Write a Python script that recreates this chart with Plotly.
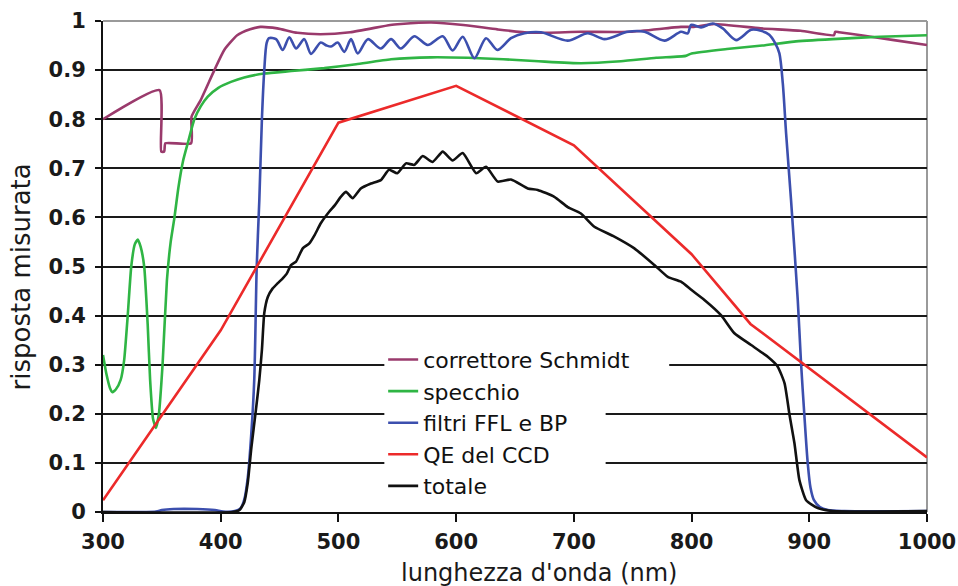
import plotly.graph_objects as go

# ---------------- data ----------------
schmidt_x = [300, 348, 349.5, 352, 353, 374.8, 375.2, 383, 394.6, 403, 414, 425, 433.6, 448, 465, 484.6,
             510, 544, 553, 578.7, 606, 635, 663, 706, 748, 791, 802, 819, 858.6, 892.6, 921, 922,
             925.3, 944, 972, 1000]
schmidt_y = [0.8, 0.859, 0.734, 0.734, 0.751, 0.751, 0.805, 0.839, 0.9, 0.941, 0.971, 0.983, 0.988, 0.985,
             0.976, 0.973, 0.977, 0.992, 0.994, 0.997, 0.992, 0.983, 0.976, 0.978, 0.978, 0.988, 0.988,
             0.994, 0.985, 0.98, 0.971, 0.978, 0.977, 0.971, 0.961, 0.951]

specchio_x = [300, 303, 306, 308, 311, 315, 318, 321, 324, 327, 329.5, 332, 335, 338, 340, 342.5, 345,
              347.5, 350.6, 354.3, 357.5, 360.6, 364, 368, 372, 377.6, 383, 389, 398, 408.7, 420, 437,
              460, 488, 515, 544.7, 578.7, 610, 640, 670, 706, 740, 770, 795, 800, 830, 860, 887, 920,
              960, 1000]
specchio_y = [0.32, 0.28, 0.252, 0.244, 0.25, 0.269, 0.31, 0.4, 0.5, 0.545, 0.555, 0.54, 0.5, 0.38, 0.27,
              0.19, 0.171, 0.2, 0.3, 0.472, 0.55, 0.598, 0.66, 0.715, 0.751, 0.8, 0.826, 0.846, 0.864,
              0.876, 0.885, 0.893, 0.898, 0.904, 0.912, 0.922, 0.926, 0.925, 0.922, 0.918, 0.914, 0.918,
              0.925, 0.929, 0.934, 0.943, 0.95, 0.958, 0.963, 0.968, 0.971]

filtri_x = [300, 345, 350, 360, 380, 395, 402, 412, 417, 420, 423, 426, 428.5, 430.6, 432.8, 435, 437, 439,
            441, 447, 452.7, 458.3, 464, 471, 476.7, 485, 490, 493.7, 499.4, 505, 510.7, 516.4, 525, 536,
            544.7, 553, 564.5, 575.8, 588.6, 597, 605.6, 615.5, 625.4, 635, 646.6, 658, 672, 694.8, 711.8,
            726, 745.8, 760, 777, 791, 796.8, 799.6, 808, 818, 826.5, 837.8, 850.6, 859, 866, 871, 874.6,
            877.5, 880.3, 884.5, 890.2, 893, 895.8, 898.7, 901, 904, 909, 915.7, 930, 1000]
filtri_y = [0, 0.001, 0.004, 0.006, 0.006, 0.004, 0.001, 0.002, 0.008, 0.025, 0.07, 0.16, 0.27, 0.5, 0.635,
            0.8, 0.9, 0.955, 0.965, 0.963, 0.941, 0.967, 0.944, 0.963, 0.933, 0.956, 0.95, 0.948, 0.956,
            0.937, 0.963, 0.934, 0.963, 0.944, 0.963, 0.944, 0.969, 0.951, 0.969, 0.94, 0.968, 0.924,
            0.965, 0.941, 0.965, 0.975, 0.977, 0.96, 0.975, 0.963, 0.978, 0.978, 0.96, 0.978, 0.975,
            0.992, 0.987, 0.995, 0.985, 0.961, 0.982, 0.98, 0.972, 0.955, 0.934, 0.873, 0.771, 0.635,
            0.432, 0.303, 0.198, 0.099, 0.05, 0.024, 0.01, 0.004, 0.002, 0.002]

qe_x = [300, 400, 500, 600, 700, 800, 850, 1000]
qe_y = [0.024, 0.37, 0.793, 0.868, 0.747, 0.525, 0.383, 0.111]

totale_x = [300, 410, 416, 420, 423, 426, 430, 432.8, 435, 437, 440, 444, 448.4, 452.7, 456, 459.7, 464,
            469.7, 475.3, 480, 485, 492.3, 497, 502, 506.5, 512, 519, 527.7, 536, 543, 550, 557.4, 564.5,
            571.6, 580, 588.6, 597, 605.6, 617, 625.4, 635.3, 646.6, 660.8, 669.3, 683.4, 694.8, 706,
            717.4, 734.4, 751.4, 768.4, 779.8, 791, 800, 810.9, 825, 836.4, 850.6, 864.7, 873.2, 879,
            883.2, 887.4, 891.6, 897.3, 907.2, 920, 1000]
totale_y = [0, 0, 0.004, 0.02, 0.06, 0.13, 0.21, 0.269, 0.33, 0.405, 0.438, 0.455, 0.466, 0.476, 0.485,
            0.503, 0.51, 0.537, 0.547, 0.565, 0.588, 0.612, 0.625, 0.642, 0.652, 0.639, 0.659, 0.669,
            0.676, 0.697, 0.69, 0.71, 0.707, 0.725, 0.713, 0.734, 0.716, 0.731, 0.69, 0.703, 0.673,
            0.677, 0.659, 0.656, 0.642, 0.621, 0.608, 0.581, 0.561, 0.537, 0.503, 0.479, 0.469, 0.452,
            0.432, 0.401, 0.364, 0.34, 0.316, 0.296, 0.262, 0.198, 0.14, 0.065, 0.024, 0.008, 0.002, 0.002]

series_names = ["correttore Schmidt", "specchio", "filtri FFL e BP", "QE del CCD", "totale"]
series_colors = ["#9a3a6c", "#2fb544", "#3c4fae", "#ec2a2a", "#111111"]
series_x = [schmidt_x, specchio_x, filtri_x, qe_x, totale_x]
series_y = [schmidt_y, specchio_y, filtri_y, qe_y, totale_y]

x_title = "lunghezza d'onda (nm)"
y_title = "risposta misurata"

# ---------------- figure ----------------
fig = go.Figure()
for name, col, xs, ys in zip(series_names, series_colors, series_x, series_y):
    if name == "QE del CCD":
        line = dict(color=col, width=2.6)
    elif name == "filtri FFL e BP":
        line = dict(color=col, width=2.6, shape="spline", smoothing=0.8)
    else:
        line = dict(color=col, width=2.6, shape="spline", smoothing=0.5)
    fig.add_trace(go.Scatter(x=xs, y=ys, mode="lines", name=name, line=line))

tick_font = dict(family="DejaVu Sans", size=21, color="#1a1a1a", weight="bold")

fig.update_layout(
    width=958, height=586,
    margin=dict(l=103, r=31, t=21, b=74, autoexpand=False),
    paper_bgcolor="white", plot_bgcolor="white",
    showlegend=True,
    legend=dict(x=0.34, y=0.353, xanchor="left", yanchor="top",
                bgcolor="rgba(0,0,0,0)", borderwidth=0,
                font=dict(family="DejaVu Sans", size=22, color="#111111"),
                itemwidth=30, tracegroupgap=0),
    xaxis=dict(range=[300, 1000], dtick=100, tick0=300, showgrid=False, automargin=False,
               showline=True, linecolor="#111111", linewidth=2,
               ticks="outside", ticklen=8, tickwidth=2, tickcolor="#111111",
               tickfont=tick_font, ticklabelstandoff=2, zeroline=False),
    yaxis=dict(range=[0, 1], dtick=0.1, tick0=0, showgrid=True, gridcolor="#1a1a1a", gridwidth=1.8,
               automargin=False,
               showline=True, linecolor="#111111", linewidth=2,
               ticks="outside", ticklen=6, tickwidth=2, tickcolor="#111111",
               tickfont=tick_font, ticklabelstandoff=5, zeroline=False),
    annotations=[
        dict(text=x_title, xref="paper", yref="paper", x=0.529, y=-0.124, xanchor="center", yanchor="middle",
             showarrow=False, font=dict(family="DejaVu Sans", size=24, color="#1a1a1a")),
        dict(text=y_title, xref="paper", yref="paper", x=-0.1, y=0.479, xanchor="center", yanchor="middle",
             textangle=-90, showarrow=False, font=dict(family="DejaVu Sans", size=26, color="#1a1a1a")),
    ],
    shapes=[
        # top and right frame (grey)
        dict(type="line", xref="paper", yref="paper", x0=0, x1=1, y0=1, y1=1,
             line=dict(color="#9a9a9a", width=2), layer="between"),
        dict(type="line", xref="paper", yref="paper", x0=1, x1=1, y0=0, y1=1,
             line=dict(color="#9a9a9a", width=2), layer="between"),
        # legend background patches hiding gridlines
        dict(type="rect", xref="x", yref="y", x0=539, x1=781, y0=0.28, y1=0.32,
             fillcolor="white", line=dict(width=0), layer="between"),
        dict(type="rect", xref="x", yref="y", x0=539, x1=727, y0=0.18, y1=0.22,
             fillcolor="white", line=dict(width=0), layer="between"),
        dict(type="rect", xref="x", yref="y", x0=539, x1=727, y0=0.08, y1=0.12,
             fillcolor="white", line=dict(width=0), layer="between"),
    ],
)

fig.write_html("out.html")
